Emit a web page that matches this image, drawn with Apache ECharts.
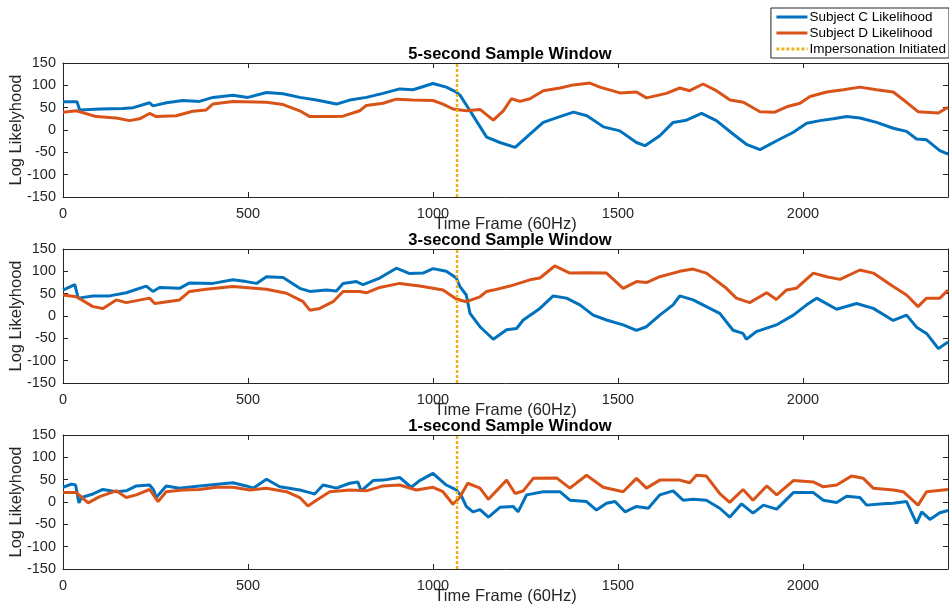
<!DOCTYPE html>
<html>
<head>
<meta charset="utf-8">
<script src="https://cdn.jsdelivr.net/npm/echarts@6/dist/echarts.min.js"></script>
<style>
  html, body { margin: 0; padding: 0; background: #fff; }
  #chart { width: 949px; height: 611px; }
</style>
</head>
<body>
<div id="chart"></div>
<script>
// panel titles and legend names
var panelTitles = ['5-second Sample Window', '3-second Sample Window', '1-second Sample Window'];
var seriesNames = ['Subject C Likelihood', 'Subject D Likelihood', 'Impersonation Initiated'];
var yTicks = [-150, -100, -50, 0, 50, 100, 150];
var xMax = 2392;
var impersonationFrame = 1065;

// 5-second window
var c5x = [0, 38, 45, 100, 162, 190, 234, 243, 280, 324, 369, 405, 459, 500, 550, 595, 640, 685, 739, 775, 820, 865, 910, 946, 1000, 1036, 1063, 1073, 1100, 1145, 1181, 1222, 1253, 1298, 1343, 1380, 1416, 1461, 1505, 1550, 1573, 1613, 1649, 1685, 1726, 1766, 1811, 1847, 1884, 1929, 1974, 2010, 2046, 2082, 2118, 2154, 2199, 2244, 2280, 2307, 2334, 2370, 2392];
var c5y = [63, 63, 45, 47, 48, 50, 61, 54, 61, 66, 64, 73, 78, 73, 84, 81, 73, 67, 58, 67, 73, 82, 92, 90, 104, 96, 85, 78, 43, -16, -28, -39, -16, 17, 30, 40, 32, 7, -2, -28, -35, -13, 17, 22, 37, 21, -9, -32, -44, -24, -5, 15, 21, 25, 30, 27, 17, 4, -3, -20, -22, -46, -54];
var d5x = [0, 36, 90, 144, 180, 207, 234, 252, 306, 351, 387, 405, 459, 550, 595, 640, 667, 730, 757, 802, 820, 865, 901, 946, 1000, 1027, 1054, 1090, 1127, 1163, 1190, 1212, 1235, 1262, 1298, 1343, 1380, 1424, 1451, 1505, 1550, 1577, 1631, 1667, 1694, 1730, 1766, 1803, 1839, 1884, 1924, 1956, 1992, 2019, 2064, 2109, 2154, 2199, 2244, 2280, 2311, 2366, 2392];
var d5y = [40, 43, 30, 27, 21, 25, 37, 30, 32, 42, 45, 58, 64, 62, 57, 43, 30, 30, 31, 43, 55, 60, 69, 67, 66, 58, 47, 43, 46, 22, 43, 70, 64, 70, 88, 94, 101, 105, 96, 83, 85, 72, 82, 94, 88, 103, 88, 67, 62, 41, 40, 52, 60, 75, 85, 90, 96, 90, 85, 62, 41, 38, 51];

// 3-second window
var c3x = [0, 32, 41, 81, 126, 171, 225, 243, 261, 315, 342, 405, 459, 495, 523, 550, 595, 640, 667, 712, 739, 757, 793, 811, 856, 901, 937, 973, 1000, 1036, 1063, 1073, 1090, 1100, 1127, 1163, 1199, 1226, 1244, 1289, 1325, 1361, 1397, 1433, 1469, 1514, 1550, 1577, 1613, 1649, 1667, 1703, 1739, 1775, 1811, 1838, 1847, 1874, 1928, 1974, 2010, 2037, 2091, 2145, 2190, 2244, 2280, 2307, 2334, 2366, 2392];
var c3y = [58, 70, 40, 45, 45, 52, 67, 55, 64, 62, 74, 73, 81, 77, 73, 88, 86, 62, 55, 58, 56, 73, 77, 70, 85, 107, 95, 96, 106, 100, 85, 66, 47, 6, -24, -52, -31, -28, -9, 17, 45, 40, 25, 2, -9, -20, -32, -24, 2, 25, 45, 36, 21, 6, -32, -39, -52, -35, -20, 2, 25, 40, 15, 28, 17, -10, 2, -25, -39, -73, -58];
var d3x = [0, 36, 81, 108, 144, 171, 234, 248, 315, 342, 387, 459, 550, 604, 649, 667, 694, 730, 757, 802, 820, 856, 910, 964, 1000, 1027, 1063, 1090, 1127, 1145, 1163, 1208, 1262, 1289, 1329, 1370, 1415, 1469, 1514, 1550, 1577, 1613, 1667, 1703, 1739, 1793, 1820, 1856, 1902, 1928, 1955, 1982, 2028, 2064, 2100, 2154, 2190, 2244, 2280, 2311, 2334, 2370, 2392];
var d3y = [47, 43, 21, 17, 36, 30, 40, 28, 36, 55, 60, 66, 60, 51, 32, 13, 17, 32, 55, 55, 52, 64, 73, 67, 62, 58, 38, 32, 43, 55, 58, 67, 81, 85, 112, 96, 97, 96, 62, 77, 75, 88, 100, 105, 96, 62, 40, 30, 52, 37, 58, 62, 96, 88, 82, 103, 96, 66, 47, 21, 40, 40, 58];

// 1-second window
var c1x = [0, 23, 34, 43, 50, 81, 108, 144, 171, 198, 234, 245, 252, 279, 315, 369, 459, 495, 514, 550, 586, 640, 667, 680, 703, 739, 775, 797, 806, 838, 865, 910, 941, 964, 1000, 1036, 1063, 1077, 1090, 1108, 1127, 1150, 1181, 1217, 1230, 1253, 1298, 1343, 1370, 1415, 1442, 1469, 1492, 1519, 1550, 1582, 1613, 1649, 1676, 1703, 1739, 1775, 1802, 1834, 1865, 1893, 1929, 1974, 2028, 2055, 2091, 2118, 2154, 2172, 2217, 2244, 2280, 2307, 2321, 2343, 2370, 2392];
var c1y = [33, 40, 38, -2, 10, 18, 28, 23, 25, 36, 38, 27, 10, 36, 31, 36, 43, 36, 31, 51, 34, 27, 21, 18, 38, 31, 42, 45, 25, 48, 49, 55, 33, 48, 64, 38, 27, 13, -10, -22, -17, -34, -12, -10, -22, 16, 23, 23, 4, 1, -18, -3, 1, -22, -10, -14, 16, 25, 4, 6, 4, -14, -34, -4, -25, -7, -16, 21, 21, 4, -1, 13, 10, -7, -4, -3, 1, -48, -22, -39, -24, -19];
var d1x = [0, 36, 68, 99, 144, 171, 198, 234, 257, 279, 324, 369, 414, 459, 505, 550, 604, 640, 662, 685, 721, 775, 820, 865, 910, 955, 1000, 1027, 1054, 1072, 1094, 1127, 1150, 1199, 1222, 1244, 1271, 1334, 1370, 1415, 1460, 1514, 1550, 1577, 1613, 1667, 1694, 1712, 1739, 1775, 1802, 1838, 1865, 1902, 1929, 1974, 2028, 2055, 2091, 2131, 2163, 2190, 2244, 2271, 2311, 2334, 2392];
var d1y = [21, 21, -2, 12, 25, 10, 16, 28, 1, 23, 27, 28, 33, 33, 27, 31, 23, 10, -9, 4, 23, 27, 25, 36, 38, 27, 33, 23, -5, 10, 42, 31, 6, 49, 19, 25, 53, 54, 31, 60, 33, 23, 53, 31, 49, 49, 43, 60, 58, 19, -1, 28, 4, 36, 16, 48, 45, 34, 38, 58, 53, 31, 27, 23, -7, 23, 28];

var panels = [
  { c: [c5x, c5y], d: [d5x, d5y], top: 63 },
  { c: [c3x, c3y], d: [d3x, d3y], top: 249 },
  { c: [c1x, c1y], d: [d1x, d1y], top: 435 }
];

function pairs(xs, ys) {
  var out = [];
  for (var i = 0; i < xs.length; i++) out.push([xs[i], ys[i]]);
  return out;
}

var fontFam = '"Liberation Sans", Arial, sans-serif';
var axisColor = '#262626';
var colors = ['#0072BD', '#D95319', '#EDB120'];

var grids = [], xAxes = [], yAxes = [], series = [], titles = [];
panels.forEach(function (p, i) {
  grids.push({ left: 63, right: 1, top: p.top, height: 134, containLabel: false, outerBoundsMode: 'none' });
  titles.push({
    text: panelTitles[i], left: 505, top: p.top - 22, textAlign: 'center',
    textStyle: { fontFamily: fontFam, fontSize: 16.5, fontWeight: 'bold', color: '#000' }
  });
  // bottom x axis
  xAxes.push({
    type: 'value', gridIndex: i, min: 0, max: xMax, interval: 500, position: 'bottom',
    name: 'Time Frame (60Hz)', nameLocation: 'middle', nameGap: 19, nameMoveOverlap: false,
    nameTextStyle: { fontFamily: fontFam, fontSize: 16.5, color: axisColor },
    axisLine: { onZero: false, lineStyle: { color: axisColor, width: 1 } },
    axisTick: { inside: true, length: 5, lineStyle: { color: axisColor } },
    axisLabel: { fontFamily: fontFam, fontSize: 14.5, color: axisColor, margin: 9, showMaxLabel: false,
      formatter: function (v) { return String(v); } },
    splitLine: { show: false }
  });
  // top x axis (box)
  xAxes.push({
    type: 'value', gridIndex: i, min: 0, max: xMax, interval: 500, position: 'top',
    axisLine: { onZero: false, lineStyle: { color: axisColor, width: 1 } },
    axisTick: { inside: true, length: 5, lineStyle: { color: axisColor } },
    axisLabel: { show: false }, splitLine: { show: false }
  });
  yAxes.push({
    type: 'value', gridIndex: i, min: -150, max: 150, interval: 50, position: 'left',
    name: 'Log Likelyhood', nameLocation: 'middle', nameGap: 38, nameMoveOverlap: false,
    nameTextStyle: { fontFamily: fontFam, fontSize: 16.5, color: axisColor },
    axisLine: { show: true, onZero: false, lineStyle: { color: axisColor, width: 1 } },
    axisTick: { show: true, inside: true, length: 5, lineStyle: { color: axisColor } },
    axisLabel: { fontFamily: fontFam, fontSize: 14.5, color: axisColor, margin: 7,
      formatter: function (v) { return yTicks.indexOf(v) >= 0 ? String(v) : ''; } },
    splitLine: { show: false }
  });
  yAxes.push({
    type: 'value', gridIndex: i, min: -150, max: 150, interval: 50, position: 'right',
    axisLine: { show: true, onZero: false, lineStyle: { color: axisColor, width: 1 } },
    axisTick: { show: true, inside: true, length: 5, lineStyle: { color: axisColor } },
    axisLabel: { show: false }, splitLine: { show: false }
  });
  var xi = i * 2, yi = i * 2;
  series.push({
    name: seriesNames[0], type: 'line', xAxisIndex: xi, yAxisIndex: yi,
    data: pairs(p.c[0], p.c[1]), symbol: 'none', animation: false,
    lineStyle: { color: colors[0], width: 3 }, itemStyle: { color: colors[0] }, z: 3
  });
  series.push({
    name: seriesNames[1], type: 'line', xAxisIndex: xi, yAxisIndex: yi,
    data: pairs(p.d[0], p.d[1]), symbol: 'none', animation: false,
    lineStyle: { color: colors[1], width: 3 }, itemStyle: { color: colors[1] }, z: 3
  });
  series.push({
    name: seriesNames[2], type: 'line', xAxisIndex: xi, yAxisIndex: yi,
    data: [[impersonationFrame, -150], [impersonationFrame, 150]], symbol: 'none', animation: false,
    lineStyle: { color: colors[2], width: 2.5, type: [3, 2] }, itemStyle: { color: colors[2] }, z: 4
  });
});

var chart = echarts.init(document.getElementById('chart'), null, { renderer: 'canvas' });
chart.setOption({
  backgroundColor: '#fff',
  animation: false,
  title: titles,
  legend: {
    data: seriesNames, orient: 'vertical', right: 0, top: 8,
    backgroundColor: '#fff', borderColor: '#262626', borderWidth: 1, borderRadius: 0,
    padding: [2, 3, 2, 4], itemGap: 2, itemWidth: 31, itemHeight: 14,
    itemStyle: { opacity: 0 },
    lineStyle: { width: 3 },
    textStyle: { fontFamily: fontFam, fontSize: 13.5, color: '#000', padding: [0, 0, 0, -3] }
  },
  grid: grids,
  xAxis: xAxes,
  yAxis: yAxes,
  series: series
});
</script>
</body>
</html>
